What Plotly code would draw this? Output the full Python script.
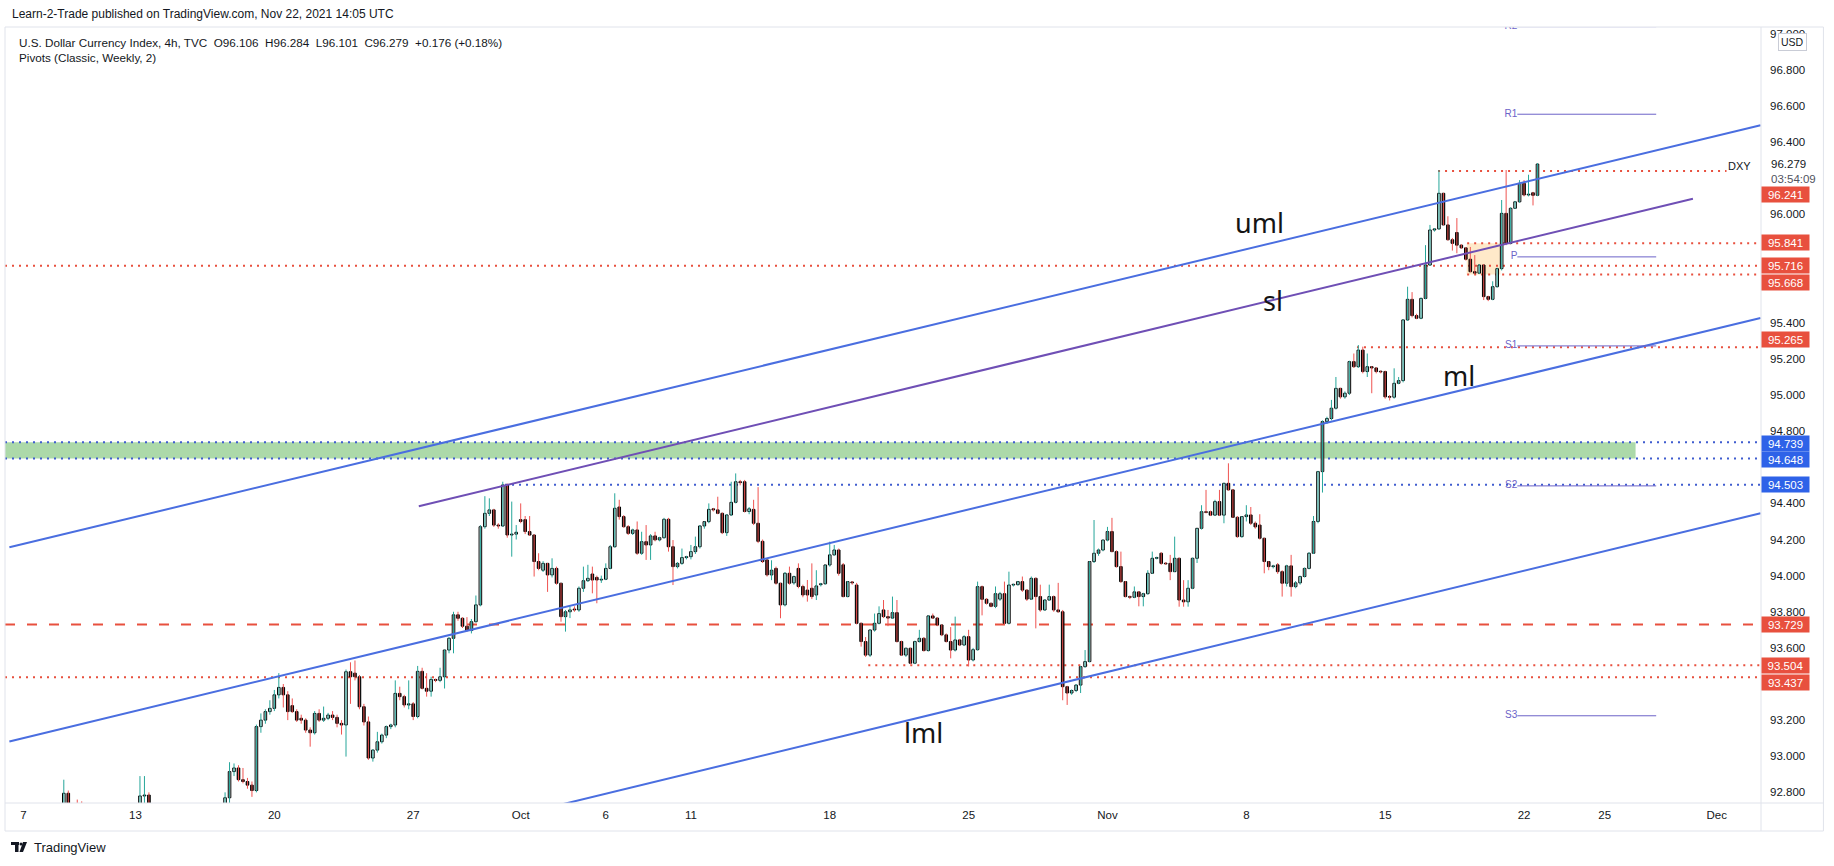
import plotly.graph_objects as go

# ---------------- data (4h bars, bar index 0 = Sep 7 00:00, one Sunday bar per week) -------------
OPEN = [
    92.52, 92.55, 92.52, 92.60, 92.64, 92.66, 92.65, 92.62, 92.68, 92.72,
    92.795, 92.66, 92.64, 92.62, 92.56, 92.50, 92.45, 92.48, 92.50, 92.47,
    92.42, 92.46, 92.55, 92.58, 92.60, 92.61, 92.62, 92.78, 92.785, 92.66,
    92.62, 92.60, 92.55, 92.52, 92.66, 92.62, 92.58, 92.60, 92.58, 92.54,
    92.50, 92.55, 92.60, 92.64, 92.66, 92.70, 92.77, 92.915, 92.935, 92.87,
    92.86, 92.84, 92.81, 93.164, 93.20, 93.247, 93.265, 93.34, 93.381, 93.34,
    93.28, 93.247, 93.21, 93.20, 93.145, 93.13, 93.237, 93.20, 93.21, 93.228,
    93.215, 93.182, 93.173, 93.468, 93.46, 93.44, 93.274, 93.19, 92.99, 93.034,
    93.08, 93.117, 93.164, 93.173, 93.348, 93.33, 93.284, 93.29, 93.22, 93.47,
    93.376, 93.36, 93.425, 93.42, 93.44, 93.588, 93.653, 93.783, 93.764, 93.72,
    93.696, 93.745, 93.838, 94.271, 94.345, 94.364, 94.28, 94.275, 94.502, 94.225,
    94.23, 94.31, 94.31, 94.244, 94.225, 94.078, 94.03, 94.068, 94.004, 94.04,
    93.958, 93.773, 93.80, 93.815, 93.81, 93.93, 93.972, 94.009, 93.99, 93.976,
    93.98, 94.04, 94.16, 94.38, 94.327, 94.271, 94.234, 94.253, 94.124, 94.188,
    94.17, 94.22, 94.198, 94.21, 94.312, 94.16, 94.05, 94.068, 94.10, 94.105,
    94.133, 94.16, 94.275, 94.299, 94.37, 94.364, 94.345, 94.238, 94.336, 94.406,
    94.52, 94.52, 94.355, 94.367, 94.29, 94.19, 94.087, 94.004, 94.04, 93.958,
    93.838, 94.013, 93.96, 94.04, 93.94, 93.92, 93.93, 93.893, 93.95, 93.955,
    94.059, 94.115, 94.142, 94.06, 93.884, 93.965, 93.948, 93.736, 93.635, 93.56,
    93.699, 93.736, 93.81, 93.773, 93.765, 93.795, 93.635, 93.56, 93.598, 93.515,
    93.635, 93.653, 93.585, 93.777, 93.765, 93.727, 93.672, 93.635, 93.588, 93.644,
    93.616, 93.662, 93.533, 93.59, 93.939, 93.869, 93.847, 93.83, 93.87, 93.90,
    93.736, 93.948, 93.95, 93.967, 93.92, 93.87, 93.985, 93.884, 93.81, 93.865,
    93.884, 93.81, 93.80, 93.385, 93.35, 93.364, 93.394, 93.496, 93.524, 94.078,
    94.124, 94.142, 94.197, 94.244, 94.133, 94.05, 93.967, 93.884, 93.88, 93.91,
    93.884, 93.90, 94.013, 94.096, 94.124, 94.068, 94.068, 94.022, 94.096, 93.865,
    93.855, 93.93, 94.096, 94.262, 94.354, 94.354, 94.335, 94.41, 94.335, 94.511,
    94.475, 94.323, 94.216, 94.327, 94.336, 94.29, 94.28, 94.207, 94.078, 94.05,
    94.06, 94.022, 93.958, 94.054, 93.939, 93.96, 93.995, 94.04, 94.124, 94.30,
    94.576, 94.853, 94.87, 94.927, 95.037, 94.99, 95.01, 95.185, 95.157, 95.249,
    95.13, 95.157, 95.15, 95.13, 95.13, 94.99, 94.988, 95.065, 95.08, 95.416,
    95.53, 95.44, 95.425, 95.535, 95.72, 95.914, 95.92, 96.117, 95.942, 95.86,
    95.90, 95.83, 95.815, 95.752, 95.683, 95.675, 95.72, 95.545, 95.53, 95.60,
    95.70, 96.006, 95.84, 96.034, 96.07, 96.172, 96.108, 96.12, 96.106,
]
HIGH = [
    92.58, 92.60, 92.62, 92.68, 92.70, 92.70, 92.69, 92.70, 92.74, 92.87,
    92.81, 92.72, 92.76, 92.75, 92.62, 92.56, 92.52, 92.55, 92.56, 92.52,
    92.50, 92.58, 92.62, 92.64, 92.63, 92.68, 92.89, 92.89, 92.80, 92.72,
    92.68, 92.66, 92.62, 92.70, 92.72, 92.68, 92.64, 92.66, 92.64, 92.60,
    92.58, 92.64, 92.68, 92.70, 92.74, 92.80, 92.967, 92.96, 92.95, 92.935,
    92.88, 92.86, 93.175, 93.237, 93.26, 93.31, 93.367, 93.46, 93.40, 93.36,
    93.32, 93.26, 93.23, 93.21, 93.16, 93.25, 93.26, 93.275, 93.24, 93.25,
    93.23, 93.20, 93.48, 93.52, 93.53, 93.45, 93.29, 93.22, 93.04, 93.135,
    93.125, 93.17, 93.18, 93.42, 93.385, 93.34, 93.42, 93.30, 93.50, 93.49,
    93.46, 93.44, 93.43, 93.49, 93.59, 93.66, 93.80, 93.80, 93.77, 93.77,
    93.76, 93.89, 94.28, 94.44, 94.428, 94.37, 94.29, 94.52, 94.51, 94.41,
    94.28, 94.40, 94.33, 94.33, 94.23, 94.124, 94.08, 94.07, 94.096, 94.05,
    93.96, 93.81, 93.83, 93.83, 93.94, 94.05, 94.06, 94.05, 94.00, 94.00,
    94.068, 94.17, 94.456, 94.42, 94.335, 94.28, 94.26, 94.30, 94.243, 94.28,
    94.23, 94.243, 94.215, 94.32, 94.32, 94.197, 94.075, 94.15, 94.11, 94.17,
    94.216, 94.28, 94.30, 94.40, 94.375, 94.437, 94.35, 94.34, 94.52, 94.566,
    94.53, 94.53, 94.38, 94.42, 94.49, 94.20, 94.09, 94.085, 94.05, 93.96,
    94.02, 94.05, 94.00, 94.068, 93.95, 93.976, 94.068, 94.03, 93.96, 94.06,
    94.188, 94.17, 94.15, 94.07, 93.97, 93.97, 93.96, 93.74, 93.66, 93.70,
    93.79, 93.83, 93.865, 93.81, 93.884, 93.865, 93.64, 93.60, 93.60, 93.64,
    93.70, 93.66, 93.78, 93.79, 93.77, 93.73, 93.68, 93.715, 93.773, 93.65,
    93.67, 93.70, 93.60, 93.967, 93.945, 93.875, 93.85, 93.94, 93.91, 93.967,
    94.022, 93.955, 93.97, 93.995, 93.925, 93.995, 93.99, 93.95, 93.87, 93.95,
    93.89, 93.96, 93.81, 93.39, 93.37, 93.40, 93.50, 93.588, 94.08, 94.308,
    94.15, 94.20, 94.27, 94.32, 94.14, 94.133, 93.97, 93.89, 93.94, 93.915,
    93.905, 94.03, 94.133, 94.105, 94.13, 94.075, 94.115, 94.216, 94.10, 93.975,
    93.975, 94.10, 94.262, 94.39, 94.475, 94.36, 94.42, 94.475, 94.515, 94.622,
    94.48, 94.33, 94.33, 94.39, 94.38, 94.30, 94.34, 94.21, 94.08, 94.06,
    94.07, 94.03, 94.06, 94.115, 93.97, 94.00, 94.045, 94.13, 94.33, 94.58,
    94.86, 94.88, 94.973, 95.10, 95.04, 95.02, 95.19, 95.23, 95.277, 95.268,
    95.23, 95.16, 95.155, 95.135, 95.135, 95.00, 95.148, 95.10, 95.42, 95.60,
    95.57, 95.45, 95.54, 95.83, 95.942, 95.925, 96.246, 96.12, 95.99, 95.87,
    95.98, 95.835, 95.82, 95.82, 95.775, 95.725, 95.725, 95.55, 95.63, 95.705,
    96.08, 96.246, 96.04, 96.075, 96.19, 96.19, 96.22, 96.125, 96.284,
]
LOW = [
    92.48, 92.50, 92.50, 92.56, 92.60, 92.62, 92.60, 92.58, 92.64, 92.70,
    92.62, 92.60, 92.58, 92.52, 92.46, 92.40, 92.38, 92.42, 92.44, 92.36,
    92.35, 92.40, 92.50, 92.54, 92.57, 92.56, 92.60, 92.72, 92.62, 92.58,
    92.55, 92.50, 92.46, 92.48, 92.58, 92.52, 92.52, 92.54, 92.50, 92.46,
    92.44, 92.50, 92.56, 92.58, 92.62, 92.66, 92.74, 92.89, 92.86, 92.85,
    92.82, 92.775, 92.80, 93.13, 93.18, 93.23, 93.25, 93.32, 93.27, 93.20,
    93.24, 93.19, 93.18, 93.13, 93.053, 93.12, 93.19, 93.19, 93.20, 93.20,
    93.16, 93.12, 92.998, 93.29, 93.42, 93.26, 93.17, 92.98, 92.97, 93.02,
    93.07, 93.10, 93.15, 93.16, 93.31, 93.27, 93.26, 93.20, 93.21, 93.37,
    93.33, 93.33, 93.41, 93.41, 93.375, 93.57, 93.57, 93.75, 93.71, 93.69,
    93.68, 93.74, 93.83, 94.26, 94.33, 94.27, 94.26, 94.27, 94.21, 94.105,
    94.20, 94.29, 94.23, 94.22, 93.995, 94.03, 94.02, 93.91, 93.99, 93.95,
    93.745, 93.69, 93.765, 93.80, 93.80, 93.91, 93.965, 93.902, 93.847, 93.96,
    93.975, 94.035, 94.155, 94.31, 94.265, 94.225, 94.225, 94.115, 94.115, 94.087,
    94.087, 94.19, 94.19, 94.205, 94.133, 93.948, 94.04, 94.06, 94.09, 94.09,
    94.12, 94.15, 94.26, 94.29, 94.355, 94.34, 94.23, 94.22, 94.33, 94.40,
    94.50, 94.35, 94.34, 94.28, 94.18, 94.07, 93.995, 93.975, 93.95, 93.764,
    93.83, 93.95, 93.95, 93.93, 93.88, 93.856, 93.87, 93.865, 93.94, 93.95,
    94.05, 94.11, 94.00, 93.88, 93.88, 93.95, 93.73, 93.607, 93.55, 93.55,
    93.69, 93.73, 93.765, 93.72, 93.76, 93.63, 93.555, 93.55, 93.51, 93.51,
    93.63, 93.58, 93.58, 93.76, 93.72, 93.665, 93.63, 93.542, 93.58, 93.61,
    93.61, 93.497, 93.525, 93.585, 93.78, 93.84, 93.825, 93.82, 93.86, 93.73,
    93.73, 93.94, 93.945, 93.91, 93.86, 93.865, 93.708, 93.80, 93.805, 93.86,
    93.80, 93.795, 93.31, 93.284, 93.34, 93.355, 93.35, 93.49, 93.52, 94.07,
    94.11, 94.135, 94.19, 94.13, 94.045, 93.96, 93.88, 93.87, 93.875, 93.83,
    93.83, 93.895, 94.01, 94.09, 94.06, 94.06, 93.975, 94.02, 93.828, 93.828,
    93.828, 93.925, 94.07, 94.255, 94.345, 94.33, 94.33, 94.33, 94.29, 94.47,
    94.32, 94.21, 94.21, 94.30, 94.28, 94.26, 94.20, 94.013, 94.03, 94.04,
    94.01, 93.884, 93.94, 93.884, 93.93, 93.95, 93.99, 94.035, 94.12, 94.29,
    94.46, 94.84, 94.86, 94.92, 94.98, 94.98, 95.00, 95.15, 95.15, 95.12,
    95.10, 95.01, 95.12, 95.12, 94.98, 94.97, 94.98, 95.06, 95.07, 95.41,
    95.43, 95.42, 95.42, 95.53, 95.715, 95.905, 95.915, 95.94, 95.855, 95.80,
    95.785, 95.81, 95.745, 95.68, 95.67, 95.67, 95.526, 95.52, 95.525, 95.595,
    95.69, 95.83, 95.835, 96.03, 96.065, 96.10, 96.10, 96.05, 96.101,
]
CLOSE = [
    92.55, 92.52, 92.60, 92.64, 92.66, 92.65, 92.62, 92.68, 92.72, 92.795,
    92.66, 92.64, 92.62, 92.56, 92.50, 92.45, 92.48, 92.50, 92.47, 92.42,
    92.46, 92.55, 92.58, 92.60, 92.61, 92.62, 92.78, 92.785, 92.66, 92.62,
    92.60, 92.55, 92.52, 92.66, 92.62, 92.58, 92.60, 92.58, 92.54, 92.50,
    92.55, 92.60, 92.64, 92.66, 92.70, 92.77, 92.915, 92.935, 92.87, 92.86,
    92.84, 92.81, 93.164, 93.20, 93.247, 93.265, 93.34, 93.381, 93.34, 93.247,
    93.247, 93.20, 93.20, 93.145, 93.13, 93.237, 93.20, 93.21, 93.228, 93.215,
    93.182, 93.173, 93.468, 93.44, 93.44, 93.274, 93.19, 92.99, 93.034, 93.08,
    93.117, 93.164, 93.173, 93.348, 93.33, 93.284, 93.29, 93.22, 93.47, 93.376,
    93.36, 93.425, 93.42, 93.44, 93.588, 93.653, 93.783, 93.764, 93.72, 93.696,
    93.745, 93.838, 94.271, 94.345, 94.364, 94.28, 94.275, 94.502, 94.225, 94.23,
    94.24, 94.30, 94.244, 94.225, 94.078, 94.04, 94.068, 94.004, 94.04, 93.958,
    93.773, 93.80, 93.81, 93.81, 93.93, 93.972, 93.985, 93.976, 93.976, 93.98,
    94.04, 94.16, 94.373, 94.327, 94.271, 94.234, 94.253, 94.124, 94.188, 94.17,
    94.22, 94.198, 94.21, 94.312, 94.16, 94.05, 94.068, 94.10, 94.105, 94.133,
    94.16, 94.275, 94.299, 94.367, 94.364, 94.345, 94.238, 94.336, 94.406, 94.52,
    94.515, 94.355, 94.37, 94.29, 94.19, 94.078, 94.004, 94.03, 93.958, 93.838,
    94.013, 93.958, 93.995, 93.94, 93.893, 93.893, 93.884, 93.943, 93.955, 94.059,
    94.115, 94.142, 94.013, 93.884, 93.967, 93.96, 93.736, 93.635, 93.56, 93.699,
    93.736, 93.79, 93.773, 93.765, 93.795, 93.635, 93.56, 93.598, 93.515, 93.635,
    93.653, 93.585, 93.777, 93.765, 93.727, 93.672, 93.635, 93.588, 93.644, 93.616,
    93.662, 93.533, 93.59, 93.939, 93.869, 93.847, 93.83, 93.90, 93.90, 93.736,
    93.948, 93.95, 93.967, 93.92, 93.87, 93.985, 93.884, 93.81, 93.865, 93.884,
    93.81, 93.80, 93.385, 93.35, 93.364, 93.394, 93.496, 93.524, 94.078, 94.124,
    94.142, 94.197, 94.244, 94.133, 94.05, 93.967, 93.884, 93.88, 93.91, 93.884,
    93.90, 94.013, 94.096, 94.10, 94.068, 94.065, 94.022, 94.096, 93.865, 93.855,
    93.93, 94.096, 94.262, 94.354, 94.35, 94.335, 94.41, 94.335, 94.511, 94.475,
    94.323, 94.216, 94.327, 94.336, 94.29, 94.27, 94.207, 94.078, 94.05, 94.05,
    94.022, 93.958, 94.054, 93.939, 93.96, 93.995, 94.04, 94.124, 94.30, 94.576,
    94.853, 94.87, 94.927, 95.037, 94.99, 95.01, 95.185, 95.157, 95.249, 95.13,
    95.157, 95.15, 95.13, 95.128, 94.99, 94.988, 95.065, 95.08, 95.416, 95.53,
    95.44, 95.425, 95.535, 95.72, 95.914, 95.92, 96.117, 95.942, 95.86, 95.84,
    95.83, 95.815, 95.752, 95.683, 95.675, 95.72, 95.545, 95.53, 95.60, 95.70,
    96.006, 95.84, 96.034, 96.07, 96.172, 96.108, 96.11, 96.106, 96.279,
]

# time axis labels (bar index of first bar of that day)
TICK_IDX = [0, 25, 56, 87, 111, 130, 149, 180, 211, 242, 273, 304, 335, 353, 378]
TICK_TEXT = ["7", "13", "20", "27", "Oct", "6", "11", "18", "25", "Nov", "8", "15", "22", "25", "Dec"]

# price axis labels left visible (the others sit under the price tags, as on the original)
PRICE_TICKS = [92.8, 93.0, 93.2, 93.6, 93.8, 94.0, 94.2, 94.4, 94.8,
               95.0, 95.2, 95.4, 96.0, 96.4, 96.6, 96.8, 97.0]

# channel drawings: anchor points (bar index, price)
UML_IDX, UML_PRICE = [-3.15, 387.8], [94.157, 96.494]
ML_IDX, ML_PRICE = [-3.15, 387.8], [93.082, 95.427]
LML_IDX, LML_PRICE = [110.0, 387.8], [92.672, 94.345]
SL_IDX, SL_PRICE = [88.25, 372.7], [94.384, 96.087]

# horizontal levels: value, first bar index (None = from left edge), last bar index (None = to right edge)
LEVEL_VALUES = [96.241, 95.841, 95.716, 95.668, 95.265, 94.739, 94.648, 94.503, 93.729, 93.504, 93.437]
LEVEL_FROM = [315.8, 322.3, None, 322.3, 297.7, None, None, 107.5, None, 188.6, None]
LEVEL_TO = [380.2, None, None, None, None, None, None, None, None, None, None]
LEVEL_KIND = ["red", "red", "red", "red", "red", "blue", "blue", "blue", "reddash", "red", "red"]

GREEN_ZONE = [94.648, 94.739]
GREEN_ZONE_TO = 359.9
ORANGE_ZONE = [95.668, 95.841]
ORANGE_ZONE_IDX = [322.2, 329.7]

PIVOT_NAMES = ["R2", "R1", "P", "S1", "S2", "S3"]
PIVOT_VALUES = [97.04, 96.555, 95.765, 95.272, 94.497, 93.224]
PIVOT_IDX = [333.5, 364.5]

LAST_PRICE = 96.279

# ---------------- layout geometry ----------------
W, H = 1834, 866
PL, PR, PT, PB = 5, 1760.6, 27, 803
PW, PH = PR - PL, PB - PT
X_RANGE = [-4.13, 387.9]
Y_RANGE = [92.741, 97.038]


def paper_x(px):
    return (px - PL) / PW


def paper_y(py):
    return (PB - py) / PH


RED = "#e8503e"
BLUE_LBL = "#2e62e8"
BLUE_DOT = "#3f5ccf"
CH_BLUE = "#4a6ee0"
PURPLE = "#6f4fb5"
PIV = "#6c63c8"
TXT = "#131722"
UI_FONT = "Liberation Sans"

fig = go.Figure()

N = len(CLOSE)
is_up = [CLOSE[i] >= OPEN[i] for i in range(N)]

# wicks
for flag, col in ((True, "#26a69a"), (False, "#ef5350")):
    xs, ys = [], []
    for i in range(N):
        if is_up[i] == flag:
            xs += [i, i, None]
            ys += [LOW[i], HIGH[i], None]
    fig.add_trace(go.Scatter(x=xs, y=ys, mode="lines", line=dict(color=col, width=1),
                             hoverinfo="skip", showlegend=False))

# bodies
for flag, fill in ((True, "#ffffff"), (False, "#000000")):
    xs, base, hgt = [], [], []
    for i in range(N):
        if is_up[i] == flag:
            lo, hi = min(OPEN[i], CLOSE[i]), max(OPEN[i], CLOSE[i])
            xs.append(i)
            base.append(lo)
            hgt.append(max(hi - lo, 0.004))
    fig.add_trace(go.Bar(x=xs, y=hgt, base=base, width=0.58,
                         marker=dict(color=fill, line=dict(color="#000000", width=1)),
                         hoverinfo="skip", showlegend=False))

# channel lines
for xs, ys, col in ((UML_IDX, UML_PRICE, CH_BLUE), (ML_IDX, ML_PRICE, CH_BLUE),
                    (LML_IDX, LML_PRICE, CH_BLUE), (SL_IDX, SL_PRICE, PURPLE)):
    fig.add_trace(go.Scatter(x=xs, y=ys, mode="lines", line=dict(color=col, width=2),
                             hoverinfo="skip", showlegend=False))

# pivot labels (clipped text)
fig.add_trace(go.Scatter(x=[PIVOT_IDX[0]] * len(PIVOT_VALUES), y=PIVOT_VALUES, mode="text",
                         text=PIVOT_NAMES, textposition="middle left",
                         textfont=dict(family=UI_FONT, size=10, color=PIV),
                         hoverinfo="skip", showlegend=False, cliponaxis=True))

shapes = []
# zones
shapes.append(dict(type="rect", xref="x", yref="y", x0=X_RANGE[0], x1=GREEN_ZONE_TO,
                   y0=GREEN_ZONE[0], y1=GREEN_ZONE[1], fillcolor="#acd9a9",
                   line=dict(width=0), layer="below"))
shapes.append(dict(type="rect", xref="x", yref="y", x0=ORANGE_ZONE_IDX[0], x1=ORANGE_ZONE_IDX[1],
                   y0=ORANGE_ZONE[0], y1=ORANGE_ZONE[1], fillcolor="rgba(255,183,77,0.30)",
                   line=dict(width=0), layer="below"))

# horizontal levels
for v, a, b, kind in zip(LEVEL_VALUES, LEVEL_FROM, LEVEL_TO, LEVEL_KIND):
    x0 = X_RANGE[0] if a is None else a
    x1 = X_RANGE[1] if b is None else b
    if kind == "reddash":
        ln = dict(color=RED, width=2, dash="10px,12px")
    elif kind == "red":
        ln = dict(color=RED, width=2, dash="2px,5px")
    else:
        ln = dict(color=BLUE_DOT, width=2, dash="2px,5px")
    shapes.append(dict(type="line", xref="x", yref="y", x0=x0, x1=x1, y0=v, y1=v,
                       line=ln, layer="below"))

# pivot lines
for v in PIVOT_VALUES:
    shapes.append(dict(type="line", xref="x", yref="y", x0=PIVOT_IDX[0], x1=PIVOT_IDX[1],
                       y0=v, y1=v, line=dict(color=PIV, width=1)))

# frame
FR = "#e0e3eb"
shapes.append(dict(type="rect", xref="paper", yref="paper", x0=paper_x(5), x1=paper_x(1823),
                   y0=paper_y(831), y1=paper_y(27), line=dict(color=FR, width=1)))
shapes.append(dict(type="line", xref="paper", yref="paper", x0=1, x1=1,
                   y0=paper_y(831), y1=paper_y(27), line=dict(color=FR, width=1)))
shapes.append(dict(type="line", xref="paper", yref="paper", x0=paper_x(5), x1=paper_x(1823),
                   y0=0, y1=0, line=dict(color=FR, width=1)))

# TradingView logo glyph
LOGO = "#131722"
shapes.append(dict(type="rect", xref="paper", yref="paper", x0=paper_x(11), x1=paper_x(19),
                   y0=paper_y(845), y1=paper_y(842), fillcolor=LOGO, line=dict(width=0)))
shapes.append(dict(type="rect", xref="paper", yref="paper", x0=paper_x(15), x1=paper_x(18.5),
                   y0=paper_y(852), y1=paper_y(842), fillcolor=LOGO, line=dict(width=0)))
shapes.append(dict(type="circle", xref="paper", yref="paper", x0=paper_x(19.5), x1=paper_x(22.5),
                   y0=paper_y(845.5), y1=paper_y(842.5), fillcolor=LOGO, line=dict(width=0)))
shapes.append(dict(type="path", xref="paper", yref="paper",
                   path="M {a},{b} L {c},{b} L {d},{e} L {f},{e} Z".format(
                       a=paper_x(23), b=paper_y(842), c=paper_x(27), d=paper_x(23), e=paper_y(852),
                       f=paper_x(19.5)),
                   fillcolor=LOGO, line=dict(width=0)))

ann = []
# header + legend
ann.append(dict(xref="paper", yref="paper", x=paper_x(10), y=paper_y(14), xanchor="left", yanchor="middle",
                text="Learn-2-Trade published on TradingView.com, Nov 22, 2021 14:05 UTC",
                showarrow=False, font=dict(family=UI_FONT, size=12, color=TXT)))
ann.append(dict(xref="paper", yref="paper", x=paper_x(17), y=paper_y(42), xanchor="left", yanchor="middle",
                text="U.S. Dollar Currency Index, 4h, TVC&nbsp;&nbsp;O96.106&nbsp;&nbsp;H96.284&nbsp;&nbsp;"
                     "L96.101&nbsp;&nbsp;C96.279&nbsp;&nbsp;+0.176 (+0.18%)",
                showarrow=False, font=dict(family=UI_FONT, size=11.7, color=TXT)))
ann.append(dict(xref="paper", yref="paper", x=paper_x(17), y=paper_y(58), xanchor="left", yanchor="middle",
                text="Pivots (Classic, Weekly, 2)",
                showarrow=False, font=dict(family=UI_FONT, size=11.7, color=TXT)))
ann.append(dict(xref="paper", yref="paper", x=paper_x(32), y=paper_y(847), xanchor="left", yanchor="middle",
                text="TradingView", showarrow=False, font=dict(family=UI_FONT, size=13, color=TXT)))

# channel names
for name, xi, yp in (("uml", 276.0, 95.958), ("sl", 278.9, 95.521), ("ml", 320.5, 95.106), ("lml", 200.9, 93.129)):
    ann.append(dict(xref="x", yref="y", x=xi, y=yp, text=name, showarrow=False,
                    font=dict(family="Noto Sans", size=27, color="#141414")))

# DXY tag and last price
ann.append(dict(xref="paper", yref="paper", x=paper_x(1753), y=paper_y(166), xanchor="right",
                yanchor="middle", text="DXY", showarrow=False, font=dict(family=UI_FONT, size=11, color=TXT)))
ann.append(dict(xref="paper", yref="paper", x=paper_x(1769), y=paper_y(164), xanchor="left",
                yanchor="middle", text="%.3f" % LAST_PRICE, showarrow=False,
                font=dict(family=UI_FONT, size=11.5, color=TXT)))
ann.append(dict(xref="paper", yref="paper", x=paper_x(1769), y=paper_y(179), xanchor="left",
                yanchor="middle", text="03:54:09", showarrow=False,
                font=dict(family=UI_FONT, size=11.5, color="#50535e")))

# price-axis level labels (pixel nudges to avoid overlaps, as on the original)
LABEL_NUDGE = [-24, 1, 0, -8, 8, -1, -1, 0, 0, 0, -5]
for v, kind, dy in zip(LEVEL_VALUES, LEVEL_KIND, LABEL_NUDGE):
    bg = BLUE_LBL if kind == "blue" else RED
    ann.append(dict(xref="paper", yref="y", x=paper_x(1761), y=v, yshift=dy, xanchor="left",
                    yanchor="middle", text="%.3f" % v, showarrow=False, bgcolor=bg,
                    width=45, height=13, borderpad=1, align="center",
                    font=dict(family=UI_FONT, size=11.5, color="#ffffff")))

ann.append(dict(xref="paper", yref="paper", x=paper_x(1792), y=paper_y(42), xanchor="center",
                yanchor="middle", text="USD", showarrow=False, bgcolor="#ffffff",
                bordercolor="#c9ccd6", borderwidth=1, borderpad=2,
                font=dict(family=UI_FONT, size=10.5, color=TXT)))

fig.update_layout(
    width=W, height=H,
    margin=dict(l=PL, r=W - PR, t=PT, b=H - PB, autoexpand=False),
    paper_bgcolor="#ffffff", plot_bgcolor="#ffffff",
    barmode="overlay", showlegend=False, hovermode=False,
    shapes=shapes, annotations=ann,
    xaxis=dict(range=X_RANGE, tickvals=TICK_IDX, ticktext=TICK_TEXT, showgrid=False,
               zeroline=False, showline=False, ticks="", ticklabelstandoff=3,
               tickfont=dict(family=UI_FONT, size=11.5, color=TXT), fixedrange=True),
    yaxis=dict(range=Y_RANGE, side="right", tickvals=PRICE_TICKS,
               ticktext=["%.3f" % t for t in PRICE_TICKS], showgrid=False, zeroline=False,
               showline=False, ticks="", ticklabelstandoff=8,
               tickfont=dict(family=UI_FONT, size=11.5, color=TXT), fixedrange=True),
)

fig.write_html("out.html")
